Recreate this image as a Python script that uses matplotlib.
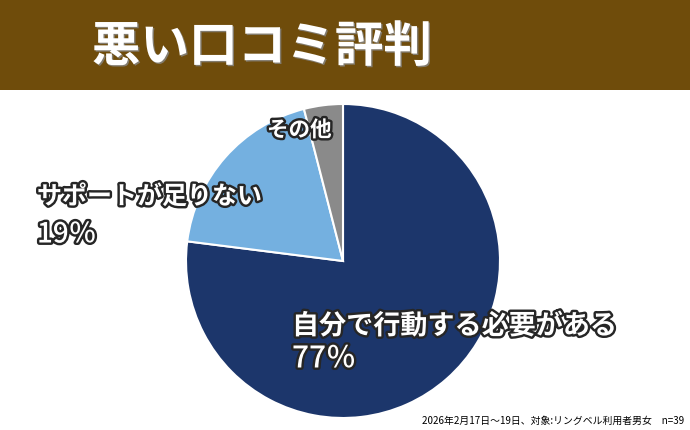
import matplotlib
matplotlib.use("Agg")
import matplotlib.pyplot as plt
import matplotlib.patheffects as pe
from matplotlib.patches import Rectangle

plt.rcParams["font.family"] = ["Noto Sans CJK JP", "DejaVu Sans"]

title = "悪い口コミ評判"
labels = ["自分で行動する必要がある", "サポートが足りない", "その他"]
values = [77, 19, 4]
pct_labels = ["77％", "19％", ""]
colors = ["#1c366b", "#74b0e0", "#8a8a8a"]
note = "2026年2月17日～19日、対象:リングベル利用者男女　n=39"

W, H = 690, 430
fig = plt.figure(figsize=(W / 100, H / 100), dpi=100)
fig.patch.set_facecolor("white")

# title banner
fig.patches.append(Rectangle((0, 1 - 90 / H), 1, 90 / H, transform=fig.transFigure,
                             facecolor="#6f4c0b", edgecolor="none", zorder=0))
fig.text(262 / W, 1 - 47 / H, title, ha="center", va="center", color="white",
         fontsize=35, fontweight="bold",
         path_effects=[pe.withSimplePatchShadow(offset=(1, -1), shadow_rgbFace="#888888", alpha=0.8)])

# pie, centre ~ (343, 261) px, radius ~157 px
cx, cy, r = 343, 261, 157
ax = fig.add_axes([(cx - r) / W, 1 - (cy + r) / H, 2 * r / W, 2 * r / H])
ax.pie(values, colors=colors, startangle=90, counterclock=False,
       wedgeprops=dict(edgecolor="white", linewidth=1.5))
ax.set_aspect("equal")
ax.set_xlim(-1, 1)
ax.set_ylim(-1, 1)
ax.axis("off")

stroke = [pe.withStroke(linewidth=3.5, foreground="#262626")]

def label(x, y, s, size, weight="bold"):
    fig.text(x / W, 1 - y / H, s, ha="left", va="center", color="white",
             fontsize=size, fontweight=weight, path_effects=stroke)

label(292, 326, labels[0], 19.5)
label(292, 359, pct_labels[0], 21.5, "medium")
label(37, 197, labels[1], 18)
label(37, 234, pct_labels[1], 20, "medium")
label(267, 130, labels[2], 15.5)

fig.text(684 / W, 1 - 421 / H, note, ha="right", va="center", color="black", fontsize=7.1)

fig.savefig("out.png", dpi=100)
